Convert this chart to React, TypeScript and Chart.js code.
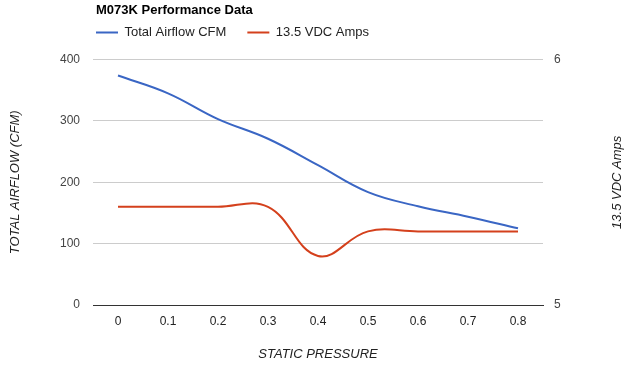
import React, { useEffect, useRef } from "react";
import { Chart, registerables } from "chart.js";

Chart.register(...registerables);

const pressureLabels = ["0", "0.1", "0.2", "0.3", "0.4", "0.5", "0.6", "0.7", "0.8"];
const airflowCFM = [374, 345, 303, 271, 228, 184, 161, 144, 125];
const amps = [5.4, 5.4, 5.4, 5.4, 5.2, 5.3, 5.3, 5.3, 5.3];

const FONT = '"Liberation Sans", Arial, sans-serif';

export default function App() {
  const ref = useRef<HTMLCanvasElement | null>(null);

  useEffect(() => {
    document.body.style.margin = "0";
    const canvas = ref.current;
    if (!canvas) return;

    const boxPlugin = {
      id: "boxPlugin",
      afterLayout(chart: any) {
        if (chart.titleBlock) {
          chart.titleBlock.top = 3;
          chart.titleBlock.left = 96;
        }
        if (chart.legend) {
          chart.legend.top = 5;
          chart.legend.left = 75;
        }
      },
      afterDraw(chart: any) {
        const { ctx, chartArea } = chart;
        ctx.save();
        ctx.translate(617, (chartArea.top + chartArea.bottom) / 2);
        ctx.rotate(-Math.PI / 2);
        ctx.font = `italic 13px ${FONT}`;
        ctx.fillStyle = "#222";
        ctx.textAlign = "center";
        ctx.textBaseline = "middle";
        ctx.fillText("13.5 VDC Amps", 0, 0);
        ctx.restore();
      },
    };

    const chart = new Chart(canvas, {
      type: "line",
      data: {
        labels: pressureLabels,
        datasets: [
          {
            label: "Total Airflow CFM",
            data: airflowCFM,
            borderColor: "#3a66c4",
            backgroundColor: "#3a66c4",
            borderWidth: 2,
            pointRadius: 0,
            tension: 0.4,
            yAxisID: "y",
          },
          {
            label: "13.5 VDC Amps",
            data: amps,
            borderColor: "#d4401c",
            backgroundColor: "#d4401c",
            borderWidth: 2,
            pointRadius: 0,
            tension: 0.4,
            yAxisID: "y1",
          },
        ],
      },
      options: {
        responsive: false,
        animation: false,
        layout: { padding: 0 },
        plugins: {
          title: {
            display: true,
            text: "M073K Performance Data",
            align: "start",
            color: "#000",
            font: { family: FONT, size: 13, weight: "bold" },
            padding: { top: 0, bottom: 0 },
          },
          legend: {
            display: true,
            align: "start",
            labels: {
              usePointStyle: true,
              pointStyle: "line",
              pointStyleWidth: 22,
              boxHeight: 12,
              padding: 21,
              color: "#222",
              font: { family: FONT, size: 13 },
            },
          },
          tooltip: { enabled: false },
        },
        scales: {
          x: {
            type: "category",
            offset: true,
            grid: { display: false, drawTicks: false },
            border: { display: true, color: "#333", width: 1 },
            ticks: { color: "#222", padding: 9, font: { family: FONT, size: 12 } },
            title: {
              display: true,
              text: "STATIC PRESSURE",
              color: "#222",
              font: { family: FONT, size: 13, style: "italic" },
              padding: { top: 0, bottom: 6 },
            },
            afterFit: (s: any) => {
              s.height = 63;
            },
          },
          y: {
            position: "left",
            min: 0,
            max: 400,
            ticks: { stepSize: 100, color: "#444", padding: 13, font: { family: FONT, size: 12 } },
            grid: {
              drawTicks: false,
              color: (c: any) => (c.tick && c.tick.value === 0 ? "#333" : "#ccc"),
            },
            border: { display: false },
            title: {
              display: true,
              text: "TOTAL AIRFLOW (CFM)",
              color: "#222",
              font: { family: FONT, size: 13, style: "italic" },
              padding: { top: 8, bottom: 0 },
            },
            afterFit: (s: any) => {
              s.width = 93;
            },
          },
          y1: {
            position: "right",
            min: 5,
            max: 6,
            ticks: { stepSize: 1, color: "#444", padding: 11, font: { family: FONT, size: 12 } },
            grid: { display: false, drawTicks: false },
            border: { display: false },
            afterFit: (s: any) => {
              s.width = 87;
            },
          },
        },
      } as any,
      plugins: [boxPlugin],
    });

    return () => chart.destroy();
  }, []);

  return (
    <div style={{ width: 630, height: 368, background: "#fff" }}>
      <canvas ref={ref} width={630} height={368} />
    </div>
  );
}
